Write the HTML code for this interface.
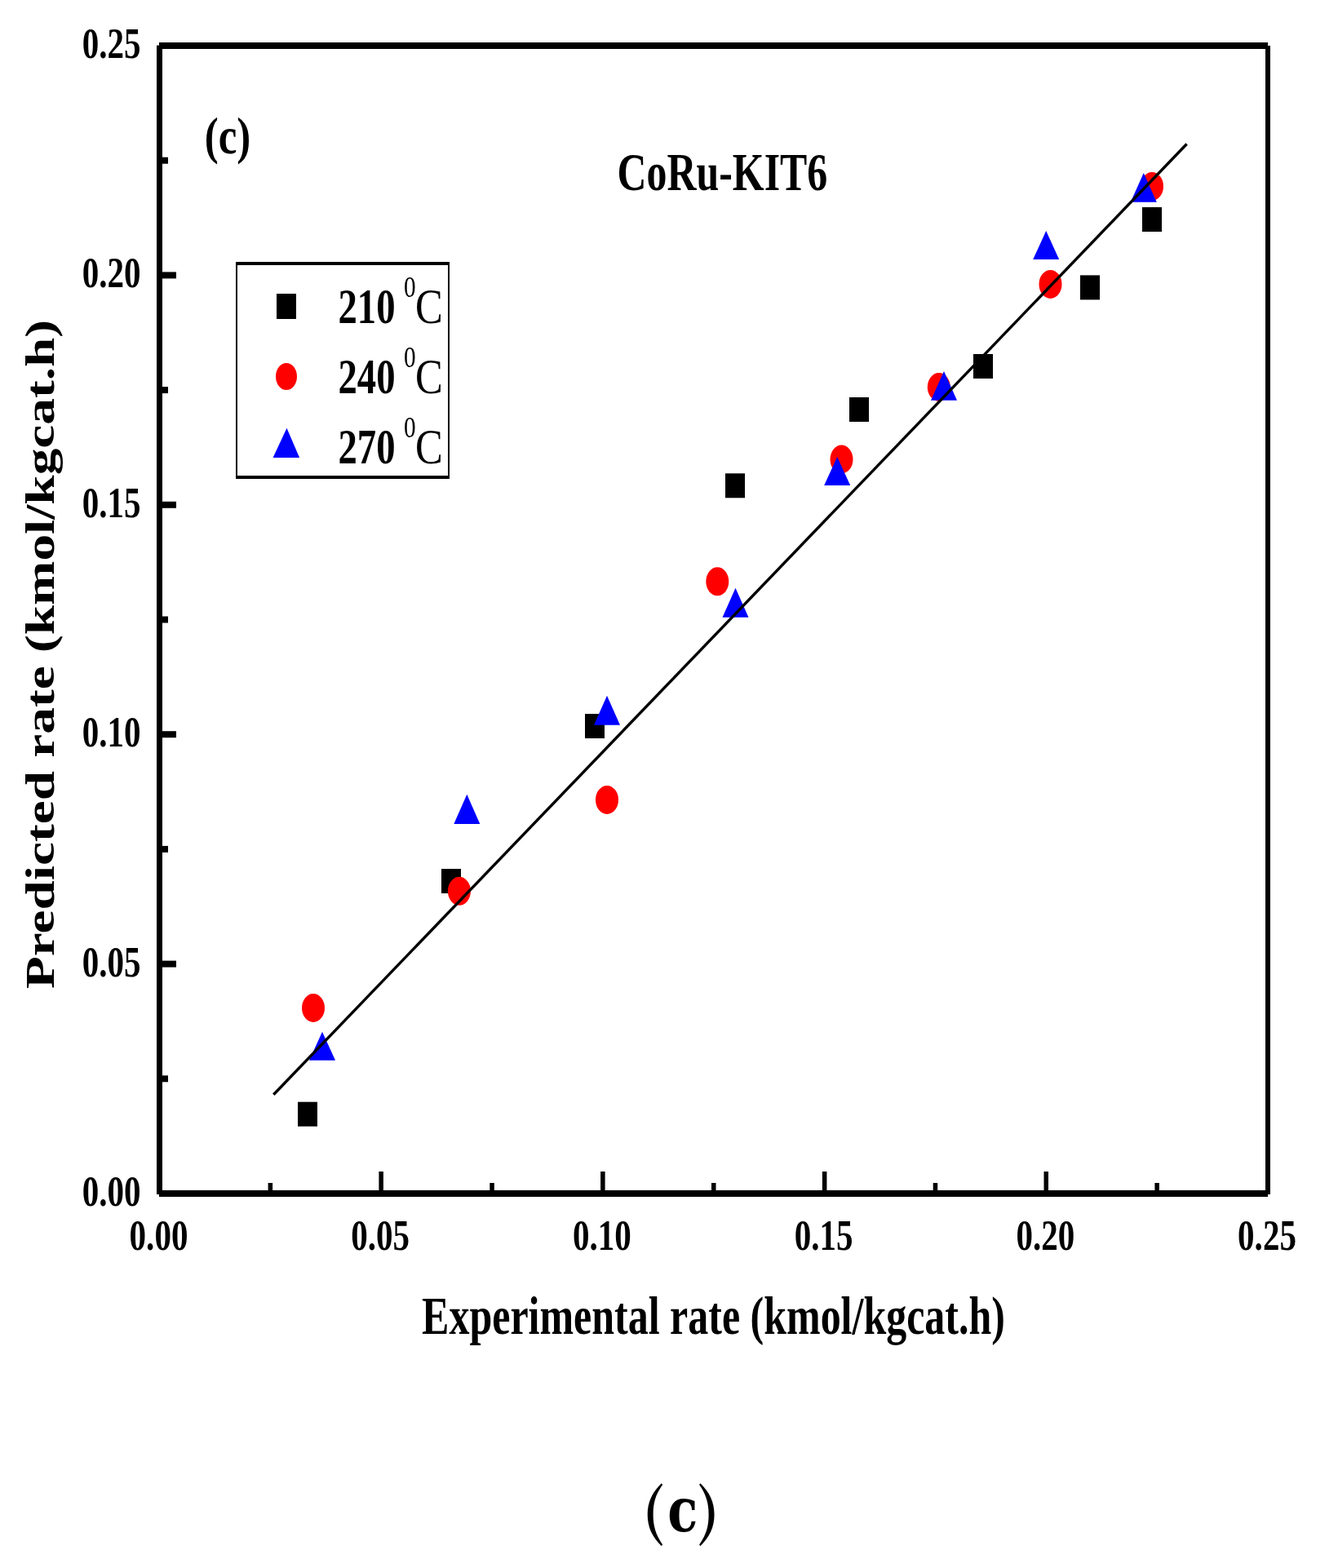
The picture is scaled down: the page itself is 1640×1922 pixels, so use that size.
<!DOCTYPE html><html><head><meta charset="utf-8"><title>Predicted vs experimental rate</title><style>html,body{margin:0;padding:0;background:#fff;}svg{display:block;}text{font-family:"Liberation Serif","Times New Roman",serif;}</style></head><body>
<svg width="1640" height="1922" viewBox="0 0 1640 1922">
<rect x="0" y="0" width="1640" height="1922" fill="#fff"/>
<rect x="365.0" y="1350.7" width="24" height="30" fill="#000"/>
<rect x="541.0" y="1065.0" width="24" height="30" fill="#000"/>
<rect x="717.0" y="875.0" width="24" height="30" fill="#000"/>
<rect x="889.0" y="580.3" width="24" height="30" fill="#000"/>
<rect x="1041.0" y="487.0" width="24" height="30" fill="#000"/>
<rect x="1193.0" y="434.0" width="24" height="30" fill="#000"/>
<rect x="1324.0" y="337.4" width="24" height="30" fill="#000"/>
<rect x="1400.0" y="254.0" width="24" height="30" fill="#000"/>
<ellipse cx="384.0" cy="1235.5" rx="14.0" ry="17.5" fill="#f00"/>
<ellipse cx="562.9" cy="1092.3" rx="14.0" ry="17.5" fill="#f00"/>
<ellipse cx="744.0" cy="980.4" rx="14.0" ry="17.5" fill="#f00"/>
<ellipse cx="879.3" cy="712.8" rx="14.0" ry="17.5" fill="#f00"/>
<ellipse cx="1031.5" cy="563.0" rx="14.0" ry="17.5" fill="#f00"/>
<ellipse cx="1150.8" cy="474.5" rx="14.0" ry="17.5" fill="#f00"/>
<ellipse cx="1287.5" cy="348.4" rx="14.0" ry="17.5" fill="#f00"/>
<ellipse cx="1412.0" cy="228.4" rx="14.0" ry="17.5" fill="#f00"/>
<polygon points="395.0,1264.8 411.0,1299.8 379.0,1299.8" fill="#00f"/>
<polygon points="572.3,973.7 588.3,1010.0 556.3,1010.0" fill="#00f"/>
<polygon points="744.0,852.8 760.0,888.8 728.0,888.8" fill="#00f"/>
<polygon points="901.5,720.7 917.5,756.8 885.5,756.8" fill="#00f"/>
<polygon points="1026.2,559.9 1042.2,594.9 1010.2,594.9" fill="#00f"/>
<polygon points="1157.0,454.9 1173.0,490.8 1141.0,490.8" fill="#00f"/>
<polygon points="1282.2,282.9 1298.2,318.0 1266.2,318.0" fill="#00f"/>
<polygon points="1401.8,211.9 1417.8,247.8 1385.8,247.8" fill="#00f"/>
<line x1="335.3" y1="1341.8" x2="1454.6" y2="176.5" stroke="#000" stroke-width="3.4" stroke-linecap="butt"/>
<rect x="195" y="52" width="1359" height="8" fill="#000"/>
<rect x="1551" y="56" width="6" height="1408" fill="#000"/>
<rect x="195" y="1459" width="1359" height="8" fill="#000"/>
<rect x="192" y="55.6" width="7" height="1408.4" fill="#000"/>
<rect x="199" y="1318.3" width="7" height="8" fill="#000"/>
<rect x="199" y="1177.6" width="17" height="8" fill="#000"/>
<rect x="199" y="1036.9" width="7" height="8" fill="#000"/>
<rect x="199" y="896.2" width="17" height="8" fill="#000"/>
<rect x="199" y="755.5" width="7" height="8" fill="#000"/>
<rect x="199" y="614.8" width="17" height="8" fill="#000"/>
<rect x="199" y="474.1" width="7" height="8" fill="#000"/>
<rect x="199" y="333.4" width="17" height="8" fill="#000"/>
<rect x="199" y="192.7" width="7" height="8" fill="#000"/>
<rect x="328.6" y="1450" width="5.5" height="9" fill="#000"/>
<rect x="464.4" y="1436" width="5.5" height="23" fill="#000"/>
<rect x="600.3" y="1450" width="5.5" height="9" fill="#000"/>
<rect x="736.1" y="1436" width="5.5" height="23" fill="#000"/>
<rect x="872.0" y="1450" width="5.5" height="9" fill="#000"/>
<rect x="1007.9" y="1436" width="5.5" height="23" fill="#000"/>
<rect x="1143.7" y="1450" width="5.5" height="9" fill="#000"/>
<rect x="1279.5" y="1436" width="5.5" height="23" fill="#000"/>
<rect x="1415.4" y="1450" width="5.5" height="9" fill="#000"/>
<text transform="translate(172.6,1478.0) scale(0.789,1)" font-size="52" font-weight="bold" text-anchor="end">0.00</text>
<text transform="translate(172.6,1196.6) scale(0.789,1)" font-size="52" font-weight="bold" text-anchor="end">0.05</text>
<text transform="translate(172.6,915.2) scale(0.789,1)" font-size="52" font-weight="bold" text-anchor="end">0.10</text>
<text transform="translate(172.6,633.8) scale(0.789,1)" font-size="52" font-weight="bold" text-anchor="end">0.15</text>
<text transform="translate(172.6,352.4) scale(0.789,1)" font-size="52" font-weight="bold" text-anchor="end">0.20</text>
<text transform="translate(172.6,71.0) scale(0.789,1)" font-size="52" font-weight="bold" text-anchor="end">0.25</text>
<text transform="translate(194.5,1532.1) scale(0.789,1)" font-size="52" font-weight="bold" text-anchor="middle">0.00</text>
<text transform="translate(466.2,1532.1) scale(0.789,1)" font-size="52" font-weight="bold" text-anchor="middle">0.05</text>
<text transform="translate(737.9,1532.1) scale(0.789,1)" font-size="52" font-weight="bold" text-anchor="middle">0.10</text>
<text transform="translate(1009.6,1532.1) scale(0.789,1)" font-size="52" font-weight="bold" text-anchor="middle">0.15</text>
<text transform="translate(1281.3,1532.1) scale(0.789,1)" font-size="52" font-weight="bold" text-anchor="middle">0.20</text>
<text transform="translate(1553.0,1532.1) scale(0.789,1)" font-size="52" font-weight="bold" text-anchor="middle">0.25</text>
<text transform="translate(250.7,188.4) scale(0.795,1)" font-size="64.1" font-weight="bold">(c)</text>
<text transform="translate(756.5,233.3) scale(0.756,1)" font-size="66" font-weight="bold">CoRu-KIT6</text>
<text transform="translate(517.1,1635) scale(0.775,1)" font-size="64.5" font-weight="bold">Experimental rate (kmol/kgcat.h)</text>
<text transform="translate(66,1212.1) scale(0.786,1) rotate(-90)" font-size="65.3" font-weight="bold">Predicted rate (kmol/kgcat.h)</text>
<rect x="289" y="321" width="262" height="4" fill="#000"/>
<rect x="289" y="583" width="262" height="4" fill="#000"/>
<rect x="289" y="321" width="2" height="266" fill="#000"/>
<rect x="549" y="321" width="2" height="266" fill="#000"/>
<rect x="339" y="360" width="24" height="31" fill="#000"/>
<ellipse cx="351" cy="461.5" rx="13" ry="16.6" fill="#f00"/>
<polygon points="351.5,524.8 367.1,561 334.6,561" fill="#00f"/>
<text transform="translate(414.5,395.5) scale(0.765,1)" font-size="61" font-weight="bold">210</text>
<text transform="translate(495,363.5) scale(0.81,1)" font-size="36.1">0</text>
<text transform="translate(509,396.0) scale(0.83,1)" font-size="61">C</text>
<text transform="translate(414.5,481.5) scale(0.765,1)" font-size="61" font-weight="bold">240</text>
<text transform="translate(495,449.5) scale(0.81,1)" font-size="36.1">0</text>
<text transform="translate(509,482.0) scale(0.83,1)" font-size="61">C</text>
<text transform="translate(414.5,567.5) scale(0.765,1)" font-size="61" font-weight="bold">270</text>
<text transform="translate(495,535.5) scale(0.81,1)" font-size="36.1">0</text>
<text transform="translate(509,568.0) scale(0.83,1)" font-size="61">C</text>
<text transform="translate(787.86,1879.7) scale(0.9,1)" font-size="75" font-weight="bold" style="font-family:'Noto Serif CJK SC','Liberation Serif',serif"><tspan>(</tspan><tspan dx="3.7" dy="-2.7" style="font-family:'DejaVu Serif',serif;font-stretch:condensed">c</tspan><tspan dx="-0.83" dy="2.7">)</tspan></text>
</svg></body></html>
